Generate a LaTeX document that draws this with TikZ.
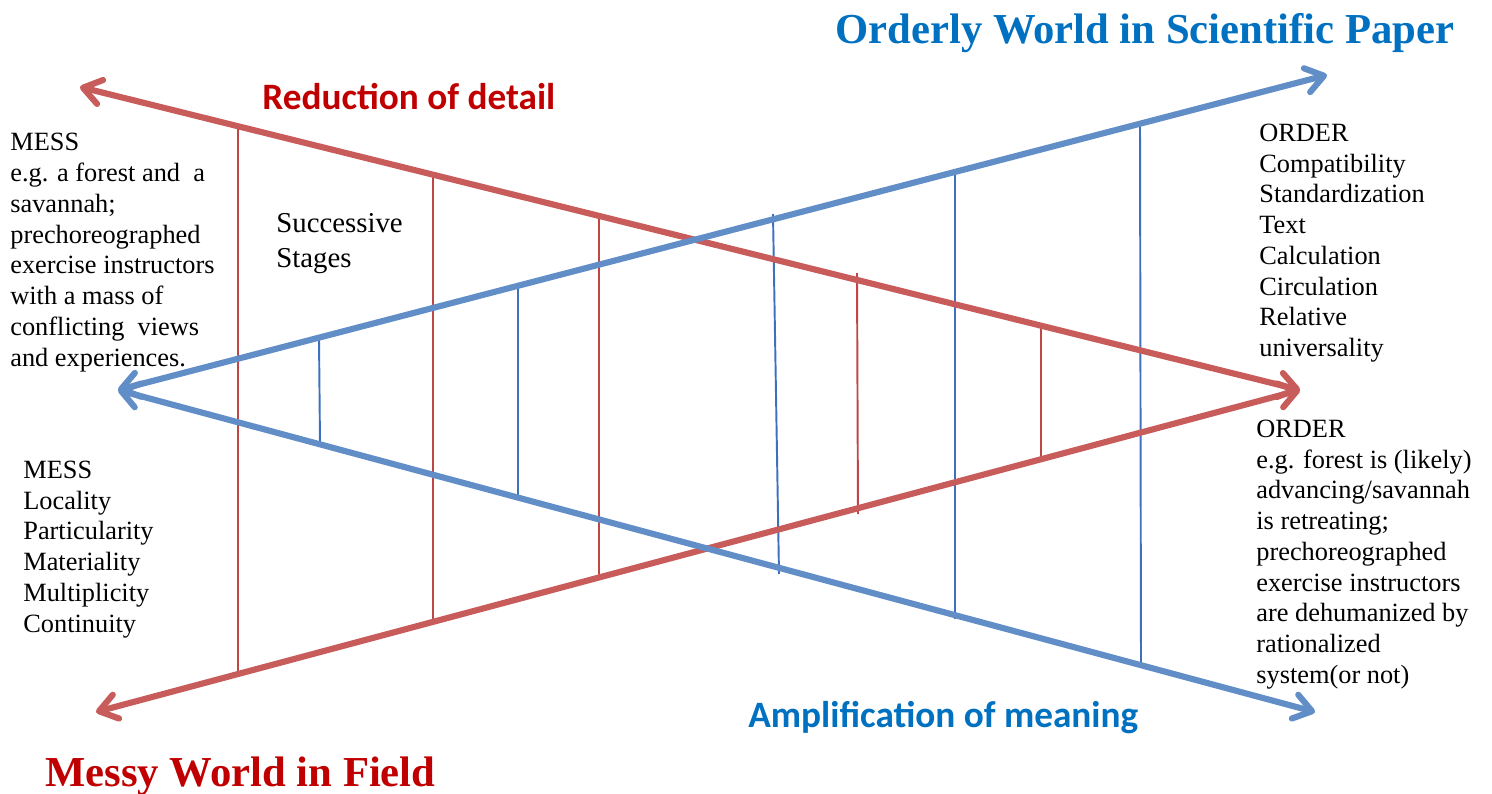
\documentclass[tikz,border=0pt]{standalone}
\usepackage{fontspec}
\setmainfont{Liberation Serif}
\newfontfamily\calibri{Carlito}
\usetikzlibrary{arrows.meta}
\definecolor{redline}{RGB}{200,92,90}
\definecolor{blueline}{RGB}{98,142,200}
\definecolor{redthin}{RGB}{192,70,70}
\definecolor{bluethin}{RGB}{62,112,190}
\definecolor{darkred}{RGB}{192,0,0}
\definecolor{titleblue}{RGB}{0,112,192}
\tikzset{
  barb/.tip={Straight Barb[length=10pt,width=14pt,round]},
  thickred/.style={draw=redline,line width=3.5pt,line cap=round,{barb}-{barb}},
  thickblue/.style={draw=blueline,line width=3.5pt,line cap=round,{barb}-{barb}},
  stagered/.style={draw=redthin,line width=1.1pt},
  stageblue/.style={draw=bluethin,line width=1.1pt},
  body/.style={inner sep=0pt,anchor=north west,align=left,font=\fontsize{15}{17.5}\selectfont},
  serifttl/.style={inner sep=0pt,anchor=base west,font=\fontsize{24.3}{28}\selectfont\bfseries},
  sansttl/.style={inner sep=0pt,anchor=base west,font=\calibri\fontsize{21.2}{25}\selectfont\bfseries},
}
\begin{document}
\begin{tikzpicture}[x=0.02cm,y=-0.02cm]
\useasboundingbox (0,0) rectangle (1492,794);
% end points of the four long lines
\coordinate (rtL) at (80,87);
\coordinate (rR)  at (1300,390);
\coordinate (rbL) at (96,712);
\coordinate (bL)  at (118,390);
\coordinate (btR) at (1327,75);
\coordinate (bbR) at (1315,712);
% stage lines (red)
\coordinate (r1t) at (238,126);  \coordinate (r1b) at (238,676);
\coordinate (r2t) at (433,175);  \coordinate (r2b) at (433,622);
\coordinate (r3t) at (599,216);  \coordinate (r3b) at (599,578);
\coordinate (r4t) at (857,273);  \coordinate (r4b) at (858,514);
\coordinate (r5t) at (1041,326); \coordinate (r5b) at (1041,459);
% stage lines (blue)
\coordinate (b1t) at (319,338);  \coordinate (b1b) at (320,444);
\coordinate (b2t) at (518,286);  \coordinate (b2b) at (518,497);
\coordinate (b3t) at (773,214);  \coordinate (b3b) at (779,574);
\coordinate (b4t) at (955,172);  \coordinate (b4b) at (955,619);
\coordinate (b5t) at (1140,124); \coordinate (b5b) at (1141,666);

\draw[stagered] (r1t) -- (r1b);
\draw[stagered] (r2t) -- (r2b);
\draw[stagered] (r3t) -- (r3b);
\draw[stagered] (r4t) -- (r4b);
\draw[stagered] (r5t) -- (r5b);
\draw[stageblue] (b1t) -- (b1b);
\draw[stageblue] (b2t) -- (b2b);
\draw[stageblue] (b3t) -- (b3b);
\draw[stageblue] (b4t) -- (b4b);
\draw[stageblue] (b5t) -- (b5b);

\draw[thickred]  (rtL) -- (rR);
\draw[thickblue] (bL) -- (btR);
\draw[thickred]  (rbL) -- (rR);
\draw[thickblue] (bL) -- (bbR);

% texts
\node[body,font=\fontsize{15}{17.6}\selectfont] (messA) at (10,132.5)
  {MESS\\e.g. a forest and~ a\\savannah;\\prechoreographed\\exercise instructors\\with a mass of\\conflicting~ views\\and experiences.};
\node[body] (messB) at (23,460.5)
  {MESS\\Locality\\Particularity\\Materiality\\Multiplicity\\Continuity};
\node[body] (orderA) at (1259,123.5)
  {ORDER\\Compatibility\\Standardization\\Text\\Calculation\\Circulation\\Relative\\universality};
\node[body] (orderB) at (1256,419.5)
  {ORDER\\e.g. forest is (likely)\\advancing/savannah\\is retreating;\\prechoreographed\\exercise instructors\\are dehumanized by\\rationalized\\system(or not)};
\node[body,font=\fontsize{16.4}{19.8}\selectfont] (stages) at (276,213)
  {Successive\\Stages};

\node[serifttl,text=titleblue] (orderly) at (835,44) {Orderly World in Scientific Paper};
\node[serifttl,text=darkred] (messy) at (45,786) {Messy World in Field};
\node[sansttl,text=darkred] (reduction) at (262,110) {Reduction of detail};
\node[sansttl,text=titleblue] (amplif) at (748,727) {Amplification of meaning};
\end{tikzpicture}
\end{document}
